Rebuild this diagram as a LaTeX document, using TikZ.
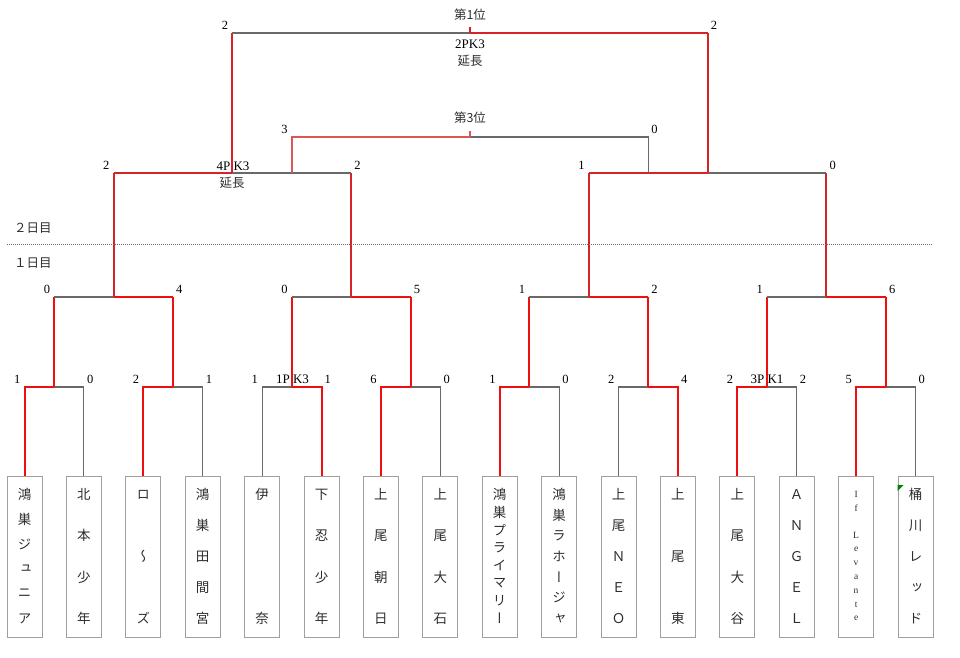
\documentclass[tikz,border=0pt]{standalone}
\usepackage{fontspec}
\setmainfont{Liberation Serif}
\newfontfamily\jp{Noto Sans CJK JP}
\newfontfamily\jpv[RawFeature=+vert]{Noto Sans CJK JP}
\usetikzlibrary{calc}

\definecolor{linegray}{RGB}{105,105,105}
\definecolor{boxgray}{RGB}{160,160,160}
\definecolor{winred}{RGB}{240,15,15}
\definecolor{topred}{RGB}{215,35,40}
\definecolor{thirdred}{RGB}{222,85,85}
\definecolor{markgreen}{RGB}{0,128,0}
\definecolor{jptext}{RGB}{45,45,45}

\tikzset{
  team/.style={draw=boxgray, line width=1pt, minimum width=35pt, minimum height=161pt, inner sep=0pt},
  tchar/.style={font=\jpv\fontsize{13.5}{13.5}\selectfont, text=jptext, inner sep=0pt},
  lose/.style={draw=linegray, line width=1.1pt},
  win/.style={draw=winred, line width=2pt},
  wintop/.style={draw=topred, line width=2pt},
  third/.style={draw=thirdred, line width=1.6pt},
  score/.style={font=\fontsize{12.5}{12.5}\selectfont, inner sep=0pt, yshift=3pt},
  lscore/.style={score, anchor=south east, xshift=-4pt},
  rscore/.style={score, anchor=south west, xshift=3pt},
  note/.style={font=\jp\fontsize{12.5}{12.5}\selectfont, text=jptext, inner sep=0pt},
  pk/.style={font=\fontsize{13}{13}\selectfont, inner sep=0pt},
}

% team name written top to bottom in box #2
\newcommand\vname[4][]{%
  \foreach \ch [count=\k] in {#4} {
    \node[tchar,#1] (#2-\k) at ([yshift={-19-(\k-1)*124/(#3-1)}]#2.north) {\ch};
  }}

\begin{document}
\begin{tikzpicture}[x=1pt,y=-1pt]
  \useasboundingbox (0,0) rectangle (960,657);

  % teams
  \foreach \i in {1,...,16} {\node[team] (t\i) at ({24.5+59.4*(\i-1)},556.5) {};}
  \vname{t1}{6}{鴻,巣,ジ,ュ,ニ,ア}
  \vname{t2}{4}{北,本,少,年}
  \vname{t3}{3}{ロ,～,ズ}
  \vname{t4}{5}{鴻,巣,田,間,宮}
  \vname{t5}{2}{伊,奈}
  \vname{t6}{4}{下,忍,少,年}
  \vname{t7}{4}{上,尾,朝,日}
  \vname{t8}{4}{上,尾,大,石}
  \vname{t9}{8}{鴻,巣,プ,ラ,イ,マ,リ,ー}
  \vname{t10}{7}{鴻,巣,ラ,ホ,ー,ジ,ャ}
  \vname{t11}{5}{上,尾,Ｎ,Ｅ,Ｏ}
  \vname{t12}{3}{上,尾,東}
  \vname{t13}{4}{上,尾,大,谷}
  \vname{t14}{5}{Ａ,Ｎ,Ｇ,Ｅ,Ｌ}
  \vname[font=\fontsize{9.5}{9.5}\selectfont]{t15}{10}{I,f,{},L,e,v,a,n,t,e}
  \vname{t16}{5}{桶,川,レ,ッ,ド}
  \fill[markgreen] (897.5,485) -- (903.5,485) -- (897.5,491) -- cycle;

  % junctions
  \foreach \j in {1,...,8} {\coordinate (m\j) at ({54.2+118.8*(\j-1)},387);}
  \foreach \k in {1,...,4} {\coordinate (n\k) at ({113.6+237.6*(\k-1)},297);}
  \coordinate (s1) at (232.4,173);
  \coordinate (s2) at (707.6,173);
  \coordinate (fin) at (470,33);
  \coordinate (fintick) at (470,27);
  \coordinate (bronze) at (470,137);
  \coordinate (bronzetick) at (470,131);

  % day 1, first round
  \foreach \j/\lsty/\rsty/\lsc/\rsc [evaluate=\j as \ia using int(2*\j-1), evaluate=\j as \ib using int(2*\j)]
    in {1/win/lose/1/0, 2/win/lose/2/1, 3/lose/win/1/1, 4/win/lose/6/0,
        5/win/lose/1/0, 6/lose/win/2/4, 7/win/lose/2/2, 8/win/lose/5/0} {
    \draw[\lsty] (t\ia.north) |- (m\j);
    \draw[\rsty] (t\ib.north) |- (m\j);
    \node[lscore] (sa\ia) at (t\ia.north |- m\j) {\lsc};
    \node[rscore] (sa\ib) at (t\ib.north |- m\j) {\rsc};
    \draw[win] (m\j) -- (m\j |- n1);
  }
  \node[pk] (pk3) at (292.5,379) {1P K3};
  \node[pk] (pk7) at (767,379) {3P K1};

  % day 1, second round
  \foreach \k/\lsty/\rsty/\lsc/\rsc [evaluate=\k as \ia using int(2*\k-1), evaluate=\k as \ib using int(2*\k)]
    in {1/lose/win/0/4, 2/lose/win/0/5, 3/lose/win/1/2, 4/lose/win/1/6} {
    \draw[\lsty] (m\ia |- n\k) -- (n\k);
    \draw[\rsty] (m\ib |- n\k) -- (n\k);
    \node[lscore] (sb\ia) at (m\ia |- n\k) {\lsc};
    \node[rscore] (sb\ib) at (m\ib |- n\k) {\rsc};
    \draw[wintop] (n\k) -- (n\k |- s1);
  }

  % day 2, semi finals
  \foreach \l/\lsty/\rsty/\lsc/\rsc [evaluate=\l as \ia using int(2*\l-1), evaluate=\l as \ib using int(2*\l)]
    in {1/wintop/lose/2/2, 2/wintop/lose/1/0} {
    \draw[\lsty] (n\ia |- s\l) -- (s\l);
    \draw[\rsty] (n\ib |- s\l) -- (s\l);
    \node[lscore] (sc\ia) at (n\ia |- s\l) {\lsc};
    \node[rscore] (sc\ib) at (n\ib |- s\l) {\rsc};
    \draw[wintop] (s\l) -- (s\l |- fin);
  }
  \node[pk] (sfpk) at (233,166) {4P K3};
  \node[note] (sfext) at (232,183) {延長};

  % third place
  \draw[third] (m3 |- s1) |- (bronze);
  \draw[lose] (m6 |- s1) |- (bronze);
  \draw[third] (bronze) -- (bronzetick);
  \node[lscore] (sd1) at (m3 |- bronze) {3};
  \node[rscore] (sd2) at (m6 |- bronze) {0};
  \node[note] (bronzelabel) at (470,118) {第3位};

  % final
  \draw[lose] (s1 |- fin) -- (fin);
  \draw[wintop] (s2 |- fin) -- (fin);
  \draw[wintop] (fin) -- (fintick);
  \node[lscore] (se1) at (s1 |- fin) {2};
  \node[rscore] (se2) at (s2 |- fin) {2};
  \node[note] (goldlabel) at (470,15) {第1位};
  \node[pk] (finpk) at (470,44) {2PK3};
  \node[note] (finext) at (470,61) {延長};

  % days
  \draw[linegray, line width=0.7pt, dash pattern=on 1pt off 1pt] (7,244) -- (933,244);
  \node[note, anchor=west] (day2) at (14,228) {２日目};
  \node[note, anchor=west] (day1) at (14,263) {１日目};
\end{tikzpicture}
\end{document}
